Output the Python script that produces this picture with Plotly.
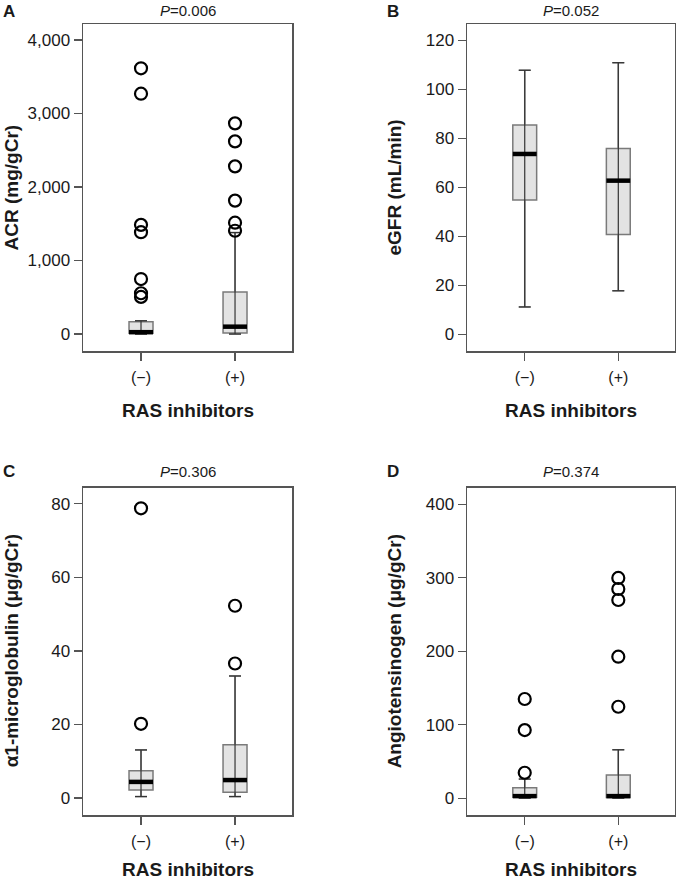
import plotly.graph_objects as go

W, H = 676, 882

# ---------------- data ----------------
categories = ["(−)", "(+)"]
x_title = "RAS inhibitors"

panel_letters = ["A", "B", "C", "D"]
p_values = ["0.006", "0.052", "0.306", "0.374"]
y_titles = ["ACR (mg/gCr)", "eGFR (mL/min)", "α1-microglobulin (μg/gCr)", "Angiotensinogen (μg/gCr)"]

# five-number summaries per group: [lower whisker, Q1, median, Q3, upper whisker]
acr_neg = [0, 10, 25, 168, 180]
acr_pos = [0, 14, 100, 571, 1380]
acr_out_neg = [3615, 3270, 1485, 1385, 748, 555, 505]
acr_out_pos = [2866, 2621, 2281, 1815, 1515, 1405]

egfr_neg = [11.1, 54.8, 73.6, 85.4, 107.8]
egfr_pos = [17.7, 40.7, 62.7, 75.8, 110.9]
egfr_out_neg = []
egfr_out_pos = []

a1m_neg = [0.4, 2.2, 4.4, 7.4, 13.1]
a1m_pos = [0.4, 1.6, 4.9, 14.5, 33.2]
a1m_out_neg = [78.8, 20.2]
a1m_out_pos = [52.3, 36.6]

agt_neg = [0, 1.0, 2.7, 14, 25.9]
agt_pos = [0, 0.8, 2.7, 31.3, 65.8]
agt_out_neg = [134.9, 92.6, 34.5]
agt_out_pos = [299.7, 284.7, 269.7, 192.5, 124.4]

y_ticks = [
    [0, 1000, 2000, 3000, 4000],
    [0, 20, 40, 60, 80, 100, 120],
    [0, 20, 40, 60, 80],
    [0, 100, 200, 300, 400],
]
y_ticktext = [
    ["0", "1,000", "2,000", "3,000", "4,000"],
    ["0", "20", "40", "60", "80", "100", "120"],
    ["0", "20", "40", "60", "80"],
    ["0", "100", "200", "300", "400"],
]
y_ranges = [[-231, 4218], [-6.9, 126.7], [-4.6, 84.4], [-23, 422.6]]

panels = [
    (acr_neg, acr_pos, acr_out_neg, acr_out_pos),
    (egfr_neg, egfr_pos, egfr_out_neg, egfr_out_pos),
    (a1m_neg, a1m_pos, a1m_out_neg, a1m_out_pos),
    (agt_neg, agt_pos, agt_out_neg, agt_out_pos),
]

# ---------------- layout geometry (pixels) ----------------
col_x = [(83, 292), (467, 675)]
row_y = [(24, 351), (487.7, 815)]
box_w = 0.255
x_range = [-0.617, 1.606]

FONT = "Liberation Sans, Arial, sans-serif"
TXT = "#1a1a1a"
FRAME = "#555555"

fig = go.Figure()
annotations = []

for i, (neg, pos, out_neg, out_pos) in enumerate(panels):
    r, c = divmod(i, 2)
    x0, x1 = col_x[c]
    y0, y1 = row_y[r]
    ax = "" if i == 0 else str(i + 1)
    xa, ya = "x" + ax, "y" + ax

    fig.update_layout(**{
        "xaxis" + ax: dict(
            domain=[x0 / W, x1 / W], range=x_range, anchor=ya,
            tickvals=[0, 1], ticktext=categories,
            showline=True, mirror=True, linecolor=FRAME, linewidth=1.5,
            ticks="outside", ticklen=8, tickwidth=1.2, tickcolor=FRAME,
            ticklabelstandoff=3,
            showgrid=False, zeroline=False, fixedrange=True,
            tickfont=dict(family=FONT, size=16, color=TXT),
        ),
        "yaxis" + ax: dict(
            domain=[1 - y1 / H, 1 - y0 / H], range=y_ranges[i], anchor=xa,
            tickvals=y_ticks[i], ticktext=y_ticktext[i],
            showline=True, mirror=True, linecolor=FRAME, linewidth=1.5,
            ticks="outside", ticklen=8, tickwidth=1.2, tickcolor=FRAME,
            showgrid=False, zeroline=False, fixedrange=True,
            tickfont=dict(family=FONT, size=17, color=TXT),
        ),
    })

    for k, stats in enumerate([neg, pos]):
        lo, q1, med, q3, hi = stats
        fig.add_trace(go.Box(
            x=[k], q1=[q1], median=[med], q3=[q3],
            lowerfence=[lo], upperfence=[hi],
            width=box_w, whiskerwidth=0.5,
            fillcolor="#e3e3e3", line=dict(color="#7a7a7a", width=1.5),
            boxpoints=False, xaxis=xa, yaxis=ya, showlegend=False,
            hoverinfo="skip",
        ))
        # whisker line running through the box
        fig.add_trace(go.Scatter(
            x=[k, k], y=[lo, hi], mode="lines",
            line=dict(color="#333333", width=1.2),
            xaxis=xa, yaxis=ya, showlegend=False, hoverinfo="skip",
        ))
        # whisker caps
        for v in (lo, hi):
            fig.add_trace(go.Scatter(
                x=[k - box_w / 4, k + box_w / 4], y=[v, v], mode="lines",
                line=dict(color="#333333", width=1.2),
                xaxis=xa, yaxis=ya, showlegend=False, hoverinfo="skip",
            ))
        # thick median
        fig.add_trace(go.Scatter(
            x=[k - box_w / 2, k + box_w / 2], y=[med, med], mode="lines",
            line=dict(color="#000000", width=4.5),
            xaxis=xa, yaxis=ya, showlegend=False, hoverinfo="skip",
        ))

    for k, outs in enumerate([out_neg, out_pos]):
        if outs:
            fig.add_trace(go.Scatter(
                x=[k] * len(outs), y=outs, mode="markers",
                marker=dict(symbol="circle-open", size=12, color="#000000",
                            line=dict(width=2.2, color="#000000")),
                xaxis=xa, yaxis=ya, showlegend=False, hoverinfo="skip",
            ))

    cx = (x0 + x1) / 2
    cy = (y0 + y1) / 2
    letter_x = 9 if c == 0 else 393
    if r == 0:
        head_y, head_anchor = 1.0, "top"
    else:
        head_y, head_anchor = 1 - (y0 - 16) / H, "middle"
    # panel letter
    annotations.append(dict(
        text="<b>%s</b>" % panel_letters[i], xref="paper", yref="paper",
        x=letter_x / W, y=head_y, xanchor="center", yanchor=head_anchor,
        showarrow=False, font=dict(family=FONT, size=17, color=TXT),
    ))
    # P value
    annotations.append(dict(
        text="<i>P</i>=%s" % p_values[i], xref="paper", yref="paper",
        x=cx / W, y=head_y, xanchor="center", yanchor=head_anchor,
        showarrow=False, font=dict(family=FONT, size=15, color=TXT),
    ))
    # y title
    ytx = 11 if c == 0 else 394
    annotations.append(dict(
        text="<b>%s</b>" % y_titles[i], xref="paper", yref="paper",
        x=ytx / W, y=1 - cy / H, xanchor="center", yanchor="middle",
        textangle=-90, showarrow=False, font=dict(family=FONT, size=19, color=TXT),
    ))
    # x title
    if r == 0:
        annotations.append(dict(
            text="<b>%s</b>" % x_title, xref="paper", yref="paper",
            x=cx / W, y=1 - (y1 + 60) / H, xanchor="center", yanchor="middle",
            showarrow=False, font=dict(family=FONT, size=19, color=TXT),
        ))
    else:
        annotations.append(dict(
            text="<b>%s</b>" % x_title, xref="paper", yref="paper",
            x=cx / W, y=0, xanchor="center", yanchor="bottom",
            showarrow=False, font=dict(family=FONT, size=19, color=TXT),
        ))

fig.update_layout(
    width=W, height=H,
    margin=dict(l=0, r=0, t=0, b=0),
    paper_bgcolor="white", plot_bgcolor="white",
    annotations=annotations,
    showlegend=False,
)

fig.write_html(
    "out.html",
    config={"displayModeBar": False, "staticPlot": True},
    post_script="document.body.style.margin='0';document.body.style.overflow='hidden';",
)
